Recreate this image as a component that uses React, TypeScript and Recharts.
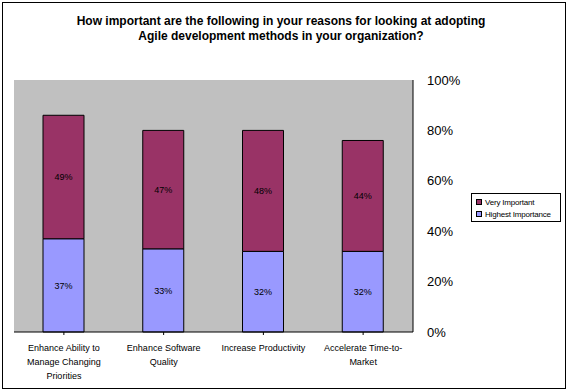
import React from 'react';
import { BarChart, Bar, XAxis, YAxis, CartesianGrid, LabelList } from 'recharts';

const categories = [
  'Enhance Ability to\nManage Changing\nPriorities',
  'Enhance Software\nQuality',
  'Increase Productivity',
  'Accelerate Time-to-\nMarket',
];
const highestImportance = [37, 33, 32, 32];
const veryImportant = [49, 47, 48, 44];
const yTicks = [0, 20, 40, 60, 80, 100];

const data = categories.map((name, i) => ({
  name,
  highest: highestImportance[i],
  very: veryImportant[i],
}));

const font = 'Arial, "Liberation Sans", sans-serif';

const CategoryTick = (props: any) => {
  const { x, y, payload } = props;
  const lines = String(payload.value).split('\n');
  return (
    <g transform={`translate(${x},${y})`}>
      {lines.map((line, i) => (
        <text
          key={i}
          x={0}
          y={14 + i * 14}
          textAnchor="middle"
          fontSize={9}
          fontFamily={font}
          fill="#000"
        >
          {line}
        </text>
      ))}
    </g>
  );
};

const legendItems = [
  { label: 'Very Important', color: '#993366' },
  { label: 'Highest Importance', color: '#9999FF' },
];

export default function App() {
  return (
    <div style={{ position: 'absolute', left: 0, top: 0, width: 568, height: 391, background: '#fff' }}>
      <div
        style={{
          position: 'absolute',
          left: 2,
          top: 2,
          width: 562,
          height: 385,
          border: '1px solid #000',
        }}
      />
      <div
        style={{
          position: 'absolute',
          left: 0,
          top: 14,
          width: 562,
          textAlign: 'center',
          fontFamily: font,
          fontWeight: 'bold',
          fontSize: 12,
          lineHeight: '15px',
        }}
      >
        How important are the following in your reasons for looking at adopting
        <br />
        Agile development methods in your organization?
      </div>
      <BarChart
        width={568}
        height={391}
        data={data}
        margin={{ top: 80, right: 95, bottom: 17, left: 14 }}
        barSize={41}
        style={{ position: 'absolute', left: 0, top: 0 }}
      >
        <CartesianGrid fill="#C0C0C0" horizontal={false} vertical={false} />
        <XAxis
          dataKey="name"
          height={42}
          tick={<CategoryTick />}
          interval={0}
          axisLine={{ stroke: '#000' }}
          tickLine={{ stroke: '#000' }}
          tickSize={3}
        />
        <YAxis
          orientation="right"
          width={60}
          domain={[0, 100]}
          ticks={yTicks}
          tickFormatter={(v: number) => `${v}%`}
          tick={{ fill: '#000', fontSize: 13, fontFamily: font }}
          axisLine={{ stroke: '#000' }}
          tickLine={false}
          tickMargin={8}
        />
        <Bar dataKey="highest" stackId="a" fill="#9999FF" stroke="#000" strokeWidth={1} isAnimationActive={false}>
          <LabelList
            dataKey="highest"
            position="center"
            formatter={(v: any) => `${v}%`}
            style={{ fill: '#000', fontSize: 9, fontFamily: font }}
          />
        </Bar>
        <Bar dataKey="very" stackId="a" fill="#993366" stroke="#000" strokeWidth={1} isAnimationActive={false}>
          <LabelList
            dataKey="very"
            position="center"
            formatter={(v: any) => `${v}%`}
            style={{ fill: '#000', fontSize: 9, fontFamily: font }}
          />
        </Bar>
      </BarChart>
      <div
        style={{
          position: 'absolute',
          left: 471,
          top: 193,
          width: 90,
          height: 29,
          border: '1px solid #000',
          background: '#fff',
          fontFamily: font,
          fontSize: 8,
          padding: '2px 0 0 4px',
          boxSizing: 'border-box',
          whiteSpace: 'nowrap',
          letterSpacing: -0.2,
        }}
      >
        {legendItems.map((item) => (
          <div key={item.label} style={{ display: 'flex', alignItems: 'center', height: 12 }}>
            <span
              style={{
                display: 'inline-block',
                width: 4,
                height: 4,
                background: item.color,
                border: '1px solid #000',
                marginRight: 3,
                flexShrink: 0,
              }}
            />
            <span>{item.label}</span>
          </div>
        ))}
      </div>
    </div>
  );
}
